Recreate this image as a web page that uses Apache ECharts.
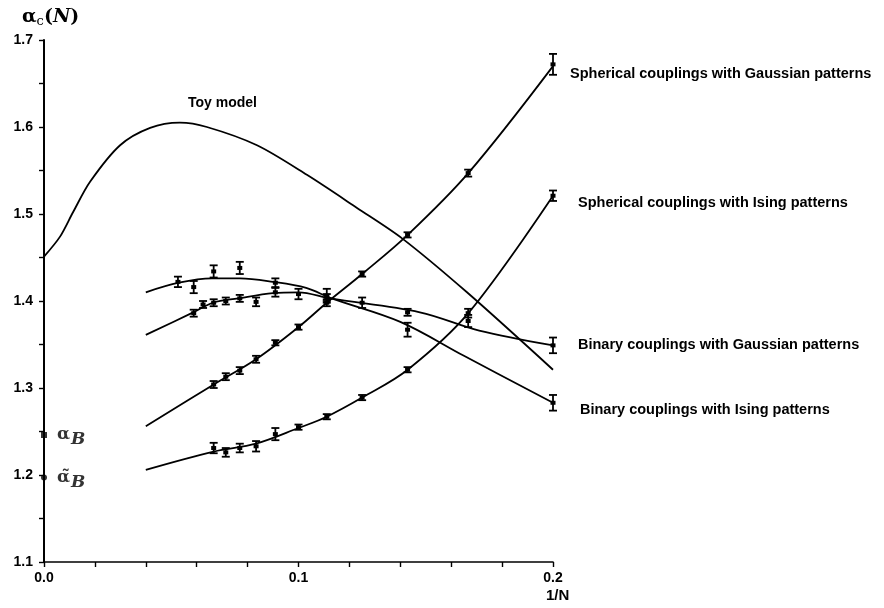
<!DOCTYPE html>
<html><head><meta charset="utf-8">
<script src="https://cdn.jsdelivr.net/npm/echarts@6/dist/echarts.min.js"></script>
<style>html,body{margin:0;padding:0;background:#fff}#c{width:884px;height:608px}</style>
</head><body><div id="c"></div>
<script>
// ---- data (1/N, alpha_c) ----
const toyModel = [[0,1.451],[0.0063,1.474],[0.0114,1.502],[0.0181,1.537],[0.0299,1.579],[0.0417,1.599],[0.0534,1.605],[0.064,1.600],[0.0837,1.579],[0.1033,1.545],[0.123,1.507],[0.1407,1.472],[0.1662,1.410],[0.2,1.321]];
const sgCurve = [[0.04,1.256],[0.0667,1.304],[0.0833,1.333],[0.1,1.370],[0.1111,1.398],[0.125,1.431],[0.1429,1.476],[0.1667,1.547],[0.2,1.670]];
const siCurve = [[0.04,1.206],[0.0667,1.227],[0.0833,1.236],[0.1,1.254],[0.1111,1.267],[0.125,1.289],[0.1429,1.321],[0.1667,1.386],[0.2,1.521]];
const bgCurve = [[0.04,1.361],[0.058,1.386],[0.0664,1.398],[0.0763,1.403],[0.09,1.409],[0.1,1.410],[0.1124,1.403],[0.1477,1.387],[0.171,1.366],[0.2,1.349]];
const biCurve = [[0.04,1.410],[0.053,1.421],[0.066,1.426],[0.077,1.426],[0.09,1.422],[0.103,1.415],[0.113,1.403],[0.140,1.376],[0.165,1.337],[0.2,1.283]];
// points with error bars: [1/N, value, half-error]
const sgPoints = [[1/15,1.304,0.004],[1/14,1.313,0.004],[1/13,1.320,0.004],[1/12,1.333,0.004],[1/11,1.352,0.003],[1/10,1.370,0.003],[1/9,1.398,0.004],[1/8,1.431,0.003],[1/7,1.476,0.003],[1/6,1.547,0.004],[1/5,1.672,0.012]];
const siPoints = [[1/15,1.231,0.006],[1/14,1.226,0.005],[1/13,1.231,0.005],[1/12,1.233,0.006],[1/11,1.247,0.007],[1/10,1.255,0.003],[1/9,1.267,0.003],[1/8,1.289,0.003],[1/7,1.321,0.003],[1/6,1.386,0.005],[1/5,1.521,0.006]];
const bgPoints = [[1/17,1.386,0.004],[1/16,1.396,0.004],[1/15,1.398,0.004],[1/14,1.400,0.004],[1/13,1.403,0.004],[1/12,1.399,0.005],[1/11,1.410,0.005],[1/10,1.408,0.006],[1/9,1.404,0.004],[1/8,1.398,0.006],[1/7,1.387,0.004],[1/6,1.377,0.007],[1/5,1.349,0.009]];
const biPoints = [[1/19,1.422,0.006],[1/17,1.416,0.007],[1/15,1.434,0.007],[1/13,1.438,0.007],[1/11,1.421,0.005],[1/9,1.406,0.008],[1/7,1.367,0.008],[1/5,1.283,0.009]];
const alphaB = [[0,1.246]];
const alphaBTilde = [[0,1.197]];
const curveNames = ['Spherical couplings with Gaussian patterns','Spherical couplings with Ising patterns','Binary couplings with Gaussian patterns','Binary couplings with Ising patterns'];

const chart = echarts.init(document.getElementById('c'));
const FONT = '"Liberation Sans", Arial, sans-serif';
function errorRender(params, api) {
  const x = api.value(0), y = api.value(1), e = api.value(2);
  const p = api.coord([x, y]);
  const hi = api.coord([x, y + e]);
  const lo = api.coord([x, y - e]);
  const w = 4;
  const st = {stroke:'#000', lineWidth:1.8};
  return {type:'group', children:[
    {type:'line', shape:{x1:hi[0],y1:hi[1],x2:lo[0],y2:lo[1]}, style:st},
    {type:'line', shape:{x1:hi[0]-w,y1:hi[1],x2:hi[0]+w,y2:hi[1]}, style:st},
    {type:'line', shape:{x1:lo[0]-w,y1:lo[1],x2:lo[0]+w,y2:lo[1]}, style:st},
    {type:'rect', shape:{x:p[0]-2.5,y:p[1]-2,width:5,height:4}, style:{fill:'#000'}}
  ]};
}
function lineSeries(data, name, offset, smooth) {
  return {type:'line', data, smooth:smooth || 0.35, symbol:'none', lineStyle:{color:'#000', width:1.8},
    endLabel: name ? {show:true, formatter:name, offset, color:'#000', fontFamily:FONT, fontWeight:'bold', fontSize:14.5} : undefined,
    z:2};
}
function errSeries(data) {
  return {type:'custom', data, renderItem:errorRender, encode:{x:0,y:1}, z:3};
}
const serif = '"DejaVu Serif", serif';
const option = {
  backgroundColor:'#fff',
  animation:false,
  grid:{left:44, top:40, width:509, height:522},
  xAxis:{type:'value', min:0, max:0.2, interval:0.02,
    axisLine:{lineStyle:{color:'#000', width:1.6}},
    axisTick:{lineStyle:{color:'#000', width:1.4}, length:5},
    splitLine:{show:false},
    axisLabel:{color:'#000', fontFamily:FONT, fontWeight:'bold', fontSize:14, margin:9,
      formatter:v => Math.abs(v*10 - Math.round(v*10)) < 1e-6 ? v.toFixed(1) : ''}},
  yAxis:{type:'value', min:1.1, max:1.7, interval:0.05,
    name:'{a|α}{s|c}{a|(}{n|N}{a|)}', nameLocation:'end', nameGap:12,
    nameTextStyle:{align:'left', padding:[0,0,0,-22], rich:{
      a:{fontFamily:serif, fontSize:19, fontWeight:'bold', color:'#000'},
      n:{fontFamily:serif, fontSize:19, fontStyle:'italic', fontWeight:'bold', color:'#000'},
      s:{fontFamily:serif, fontSize:13, color:'#000', padding:[8,0,0,0]}}},
    axisLine:{show:true, lineStyle:{color:'#000', width:2}},
    axisTick:{show:true, lineStyle:{color:'#000', width:1.4}, length:5},
    splitLine:{show:false},
    axisLabel:{color:'#000', fontFamily:FONT, fontWeight:'bold', fontSize:14, margin:11,
      formatter:v => Math.abs(v*10 - Math.round(v*10)) < 1e-6 ? v.toFixed(1) : ''}},
  graphic:[
    {type:'text', left:188, top:96, style:{text:'Toy model', fill:'#000', font:'bold 14px "Liberation Sans", Arial, sans-serif'}},
    {type:'text', left:546, top:588, style:{text:'1/N', fill:'#000', font:'bold 15px "Liberation Sans", Arial, sans-serif'}}
  ],
  series:[
    lineSeries(toyModel, null, null, 0.3),
    lineSeries(sgCurve, curveNames[0], [9, 8]),
    lineSeries(siCurve, curveNames[1], [17, 7]),
    lineSeries(bgCurve, curveNames[2], [17, 0]),
    lineSeries(biCurve, curveNames[3], [19, 7]),
    errSeries(sgPoints), errSeries(siPoints), errSeries(bgPoints), errSeries(biPoints),
    {type:'scatter', data:alphaB, symbol:'rect', symbolSize:6, itemStyle:{color:'#000'}, clip:false,
      label:{show:true, position:'right', distance:10, color:'#000', formatter:'{a|α}{b|B}', rich:{
        a:{fontFamily:serif, fontSize:17, fontWeight:'bold', color:'#000'},
        b:{fontFamily:serif, fontSize:17, fontStyle:'italic', fontWeight:'bold', color:'#000', padding:[9,0,0,1]}}}},
    {type:'scatter', data:alphaBTilde, symbol:'circle', symbolSize:6, itemStyle:{color:'#000'}, clip:false,
      label:{show:true, position:'right', distance:10, color:'#000', formatter:'{a|α\u0303}{b|B}', rich:{
        a:{fontFamily:serif, fontSize:17, fontWeight:'bold', color:'#000'},
        b:{fontFamily:serif, fontSize:17, fontStyle:'italic', fontWeight:'bold', color:'#000', padding:[9,0,0,1]}}}}
  ]
};
chart.setOption(option);
</script></body></html>
